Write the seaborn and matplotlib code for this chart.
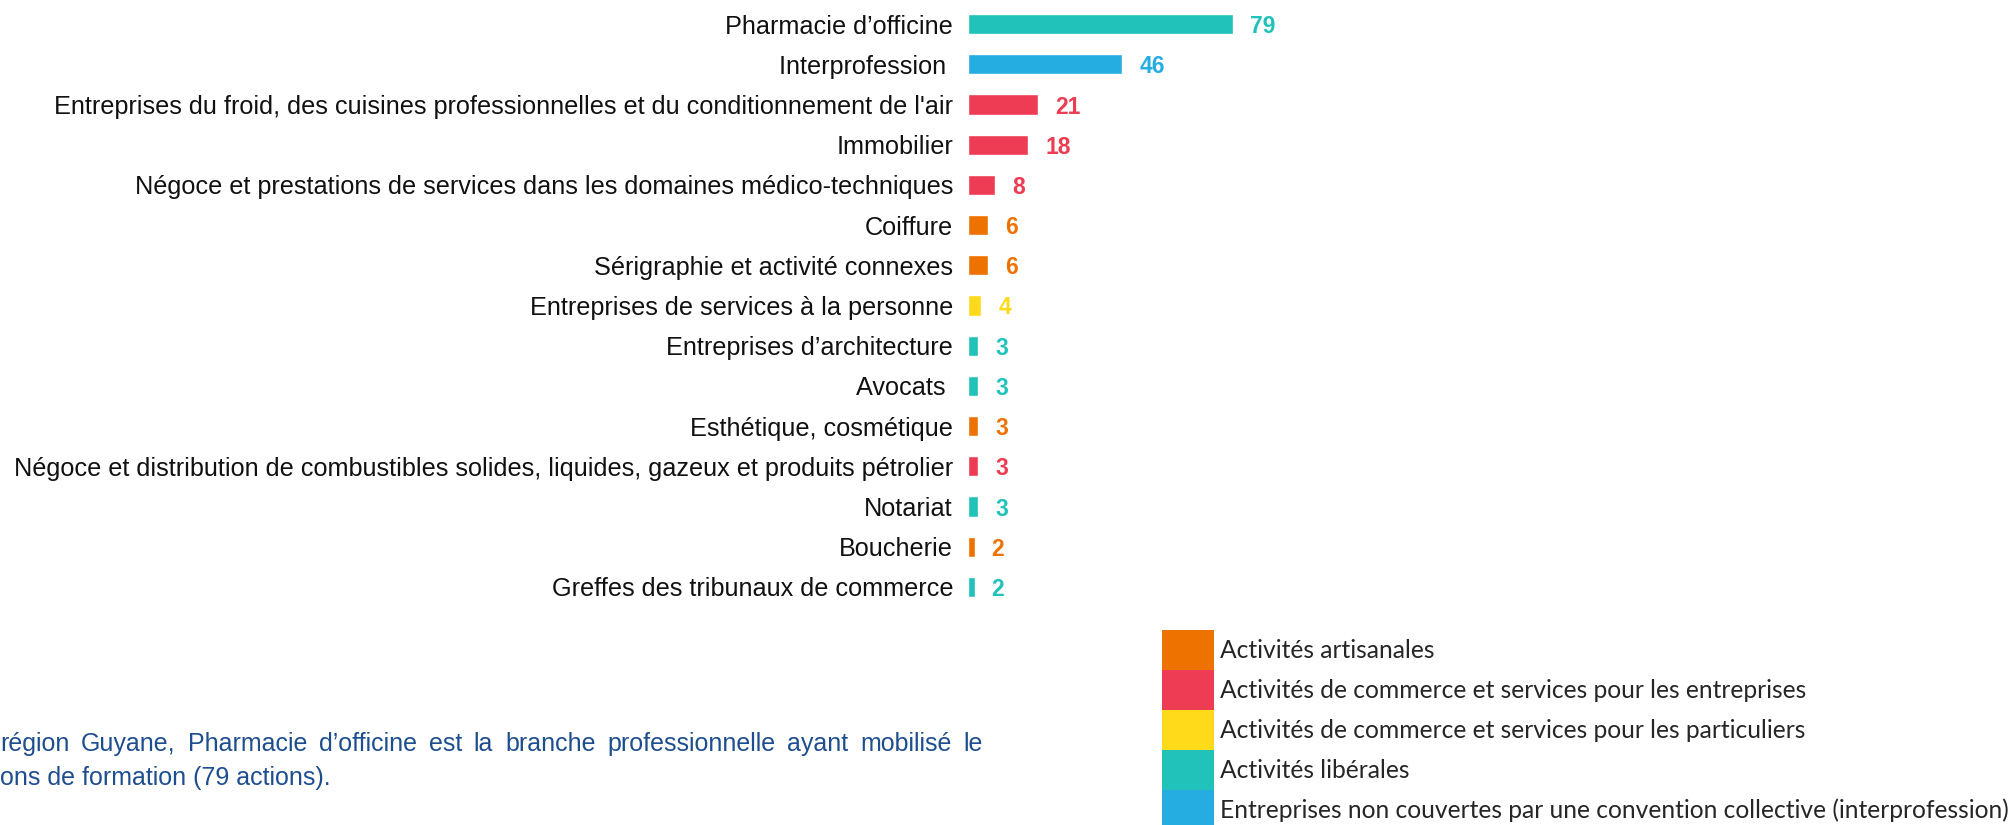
import matplotlib
matplotlib.use("Agg")
import matplotlib.pyplot as plt
from matplotlib.patches import Patch
import pandas as pd
import seaborn as sns

# ---------------- DATA ----------------
branches = [
    "Pharmacie d’officine",
    "Interprofession ",
    "Entreprises du froid, des cuisines professionnelles et du conditionnement de l'air",
    "Immobilier",
    "Négoce et prestations de services dans les domaines médico-techniques",
    "Coiffure",
    "Sérigraphie et activité connexes",
    "Entreprises de services à la personne",
    "Entreprises d’architecture",
    "Avocats ",
    "Esthétique, cosmétique",
    "Négoce et distribution de combustibles solides, liquides, gazeux et produits pétrolier",
    "Notariat",
    "Boucherie",
    "Greffes des tribunaux de commerce",
]
actions = [79, 46, 21, 18, 8, 6, 6, 4, 3, 3, 3, 3, 3, 2, 2]
secteurs = [
    "Activités libérales",
    "Entreprises non couvertes par une convention collective (interprofession)",
    "Activités de commerce et services pour les entreprises",
    "Activités de commerce et services pour les entreprises",
    "Activités de commerce et services pour les entreprises",
    "Activités artisanales",
    "Activités artisanales",
    "Activités de commerce et services pour les particuliers",
    "Activités libérales",
    "Activités libérales",
    "Activités artisanales",
    "Activités de commerce et services pour les entreprises",
    "Activités libérales",
    "Activités artisanales",
    "Activités libérales",
]
legend_order = [
    "Activités artisanales",
    "Activités de commerce et services pour les entreprises",
    "Activités de commerce et services pour les particuliers",
    "Activités libérales",
    "Entreprises non couvertes par une convention collective (interprofession)",
]
legend_colors = ["#EE7200", "#ED3C53", "#FFDA1A", "#20C2BA", "#25ADE2"]
note_lines = [
    "région Guyane, Pharmacie d’officine est la branche professionnelle ayant mobilisé le",
    "ons de formation (79 actions).",
]

palette = dict(zip(legend_order, legend_colors))
df = pd.DataFrame({"branche": branches, "actions": actions, "secteur": secteurs})

# ---------------- PLOT ----------------
sns.set_theme(style="white")
plt.rcParams["font.family"] = ["Liberation Sans", "DejaVu Sans"]

W, H = 2014, 825
fig = plt.figure(figsize=(W / 100, H / 100), dpi=100)
px_per_unit = 265 / 79
ax_w = 320
ax = fig.add_axes([968 / W, (H - 607) / H, ax_w / W, 603 / H])

sns.barplot(data=df, x="actions", y="branche", hue="secteur", palette=palette,
            dodge=False, width=0.5, legend=False, ax=ax, saturation=1)
ax.set_xlim(0, ax_w / px_per_unit)
ax.set_ylim(14.5, -0.5)
for s in ax.spines.values():
    s.set_visible(False)
ax.set_xticks([])
ax.set_xlabel("")
ax.set_ylabel("")
ax.tick_params(axis="y", length=0, pad=10.8, labelsize=18.2, labelcolor="#111111")

for i, (v, sec) in enumerate(zip(actions, secteurs)):
    ax.annotate(str(v), (v, i), xytext=(12.2, 0), textcoords="offset points",
                ha="left", va="center_baseline", fontsize=16.5, fontweight="bold",
                color=palette[sec])

# legend: contiguous colour blocks, 52x40 px each
handles = [Patch(facecolor=c, edgecolor="none") for c in legend_colors]
fs = 17.7
pt = fs * 1.389
fig.legend(handles, legend_order, loc="upper left",
           bbox_to_anchor=(1162 / W, 1 - 630 / H), frameon=False,
           borderpad=0, borderaxespad=0, labelspacing=0,
           handlelength=52 / pt, handleheight=(40 / pt - 0.245) / 0.65,
           handletextpad=6 / pt,
           prop={"family": ["Lato", "DejaVu Sans"], "size": fs})

# note text (first line justified to the column width)
note_col = "#1F4E8F"
note_fs = 18
fig.canvas.draw()
renderer = fig.canvas.get_renderer()
words = note_lines[0].split(" ")
tmp = [fig.text(0, 0, w, fontsize=note_fs) for w in words]
widths = [t.get_window_extent(renderer).width for t in tmp]
for t in tmp:
    t.remove()
line_w = 983
gap = (line_w - sum(widths)) / (len(words) - 1)
x = 0
for w, wd in zip(words, widths):
    fig.text(x / W, 1 - 744 / H, w, ha="left", va="center",
             fontsize=note_fs, color=note_col)
    x += wd + gap
fig.text(0, 1 - 778 / H, note_lines[1], ha="left", va="center",
         fontsize=note_fs, color=note_col)

fig.savefig("out.png", dpi=100, facecolor="w")
